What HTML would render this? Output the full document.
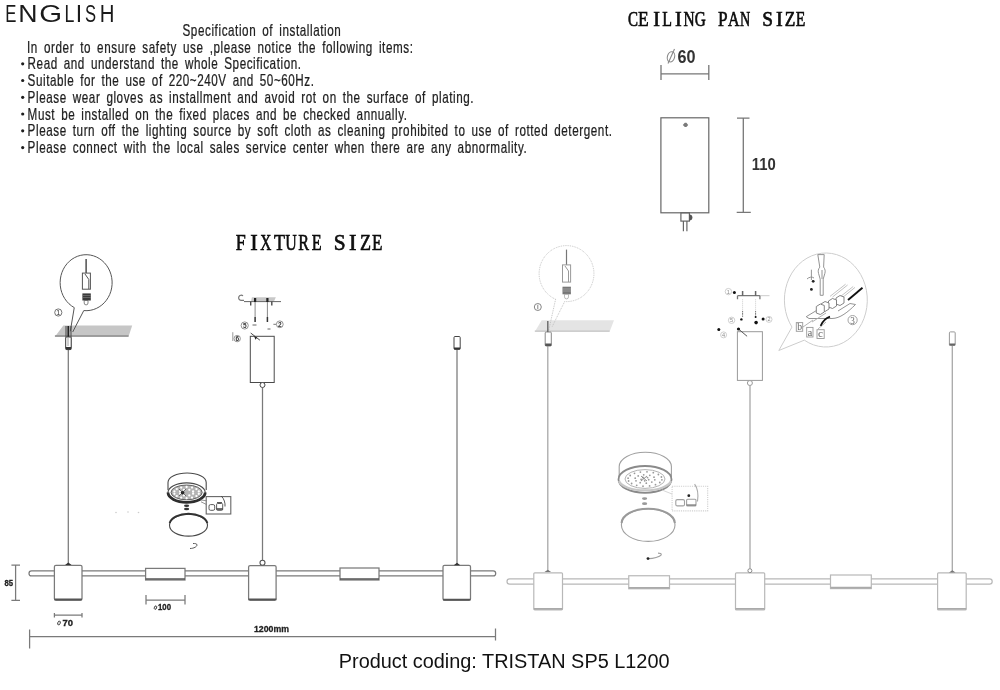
<!DOCTYPE html>
<html><head><meta charset="utf-8">
<style>
html,body{margin:0;padding:0;background:#fff;width:1000px;height:690px;overflow:hidden}
svg{display:block;filter:blur(0.4px)}
.t{font-family:"Liberation Sans",sans-serif;fill:#1e1e1e}
.s{font-family:"Liberation Serif",serif;fill:#111}
</style></head>
<body>
<svg width="1000" height="690" viewBox="0 0 1000 690">
<!-- ===== TEXT ===== -->
<g class="t" font-size="23" style="fill:#1a1a1a"><text x="7.098" y="22" transform="scale(0.7273,1)">E</text><text x="15.669" y="22" transform="scale(1.1594,1)">N</text><text x="30.697" y="22" transform="scale(1.2780,1)">G</text><text x="83.418" y="22" transform="scale(0.7729,1)">L</text><text x="75.730" y="22" transform="scale(1.0000,1)">I</text><text x="117.748" y="22" transform="scale(0.7222,1)">S</text><text x="112.646" y="22" transform="scale(0.8848,1)">H</text></g>
<g transform="scale(0.74,1)" class="t" font-size="15.8" word-spacing="2.97" stroke="#1e1e1e" stroke-width="0.25">
<text x="246.62" y="35.8" textLength="213.92" lengthAdjust="spacing">Specification of installation</text>
<text x="36.48" y="52.9" textLength="521.62" lengthAdjust="spacing">In order to ensure safety use ,please notice the following items:</text>
<text x="37.30" y="69.5" textLength="369.46" lengthAdjust="spacing">Read and understand the whole Specification.</text>
<text x="37.30" y="86.2" textLength="387.02" lengthAdjust="spacing">Suitable for the use of 220~240V and 50~60Hz.</text>
<text x="37.30" y="103" textLength="602.70" lengthAdjust="spacing">Please wear gloves as installment and avoid rot on the surface of plating.</text>
<text x="37.30" y="119.7" textLength="512.70" lengthAdjust="spacing">Must be installed on the fixed places and be checked annually.</text>
<text x="37.30" y="136.5" textLength="789.72" lengthAdjust="spacing">Please turn off the lighting source by soft cloth as cleaning prohibited to use of rotted detergent.</text>
<text x="37.30" y="153.3" textLength="674.46" lengthAdjust="spacing">Please connect with the local sales service center when there are any abnormality.</text>
</g>
<g fill="#1e1e1e">
<circle cx="22.7" cy="63.8" r="1.6"/><circle cx="22.7" cy="80.5" r="1.6"/><circle cx="22.7" cy="97.3" r="1.6"/>
<circle cx="22.7" cy="114" r="1.6"/><circle cx="22.7" cy="130.8" r="1.6"/><circle cx="22.7" cy="147.6" r="1.6"/>
</g>

<g class="s" font-size="20.2" font-weight="normal" style="stroke:#000;stroke-width:0.6"><text x="845.707" y="25.6" transform="scale(0.7426,1)">C</text><text x="738.295" y="25.6" transform="scale(0.8641,1)">E</text><text x="653.317" y="25.6" transform="scale(1.0000,1)">I</text><text x="840.146" y="25.6" transform="scale(0.7884,1)">L</text><text x="674.967" y="25.6" transform="scale(1.0000,1)">I</text><text x="894.137" y="25.6" transform="scale(0.7644,1)">N</text><text x="916.988" y="25.6" transform="scale(0.7576,1)">G</text><text x="843.181" y="25.6" transform="scale(0.8515,1)">P</text><text x="920.572" y="25.6" transform="scale(0.7907,1)">A</text><text x="1058.985" y="25.6" transform="scale(0.6989,1)">N</text><text x="797.140" y="25.6" transform="scale(0.9563,1)">S</text><text x="775.917" y="25.6" transform="scale(1.0000,1)">I</text><text x="915.958" y="25.6" transform="scale(0.8568,1)">Z</text><text x="1028.046" y="25.6" transform="scale(0.7741,1)">E</text></g>
<g class="s" font-size="22.5" font-weight="normal" style="stroke:#000;stroke-width:0.6"><text x="294.675" y="249.6" transform="scale(0.8000,1)">F</text><text x="250.287" y="249.6" transform="scale(1.0000,1)">I</text><text x="381.084" y="249.6" transform="scale(0.6828,1)">X</text><text x="343.046" y="249.6" transform="scale(0.7985,1)">T</text><text x="402.777" y="249.6" transform="scale(0.7085,1)">U</text><text x="415.318" y="249.6" transform="scale(0.7179,1)">R</text><text x="433.370" y="249.6" transform="scale(0.7192,1)">E</text><text x="351.574" y="249.6" transform="scale(0.9495,1)">S</text><text x="349.088" y="249.6" transform="scale(1.0000,1)">I</text><text x="448.056" y="249.6" transform="scale(0.8034,1)">Z</text><text x="489.679" y="249.6" transform="scale(0.7596,1)">E</text></g>
<text class="t" x="338.75" y="668" font-size="20" textLength="330.75" lengthAdjust="spacingAndGlyphs" style="fill:#111">Product coding: TRISTAN SP5 L1200</text>

<!-- ===== CEILING PAN ===== -->
<g stroke="#777" stroke-width="1.3" fill="none">
<path d="M661 65V80M708.8 65V80M661 73.9H708.8"/>
<path d="M743.3 118.2V212.4M737 118.2H749.5M736.7 212.4H750.8"/>
</g>
<g stroke="#666" stroke-width="1.2" fill="none">
<rect x="660.9" y="117.8" width="47.9" height="95"/>
<rect x="680.9" y="212.8" width="8.5" height="8.3"/>
<path d="M683.4 221.1V231.3M686.9 221.1V231.3"/>
</g>
<path d="M682.8 125l2-2.2h1.6l1.8 2.2-1.8 2h-1.6z" fill="#7a7a7a"/>
<path d="M689.4 214.5a3 3 0 0 1 0 6z" fill="#555"/>
<g fill="none" stroke="#8a8a8a" stroke-width="1.1"><ellipse cx="671" cy="56.8" rx="3.6" ry="5.2" transform="rotate(15 671 56.8)"/><path d="M668 63.5L674.5 49"/></g>
<text class="t" x="677.6" y="63.4" font-size="17.5" font-weight="bold" textLength="18" lengthAdjust="spacingAndGlyphs" style="fill:#333">60</text>
<text class="t" x="751.8" y="169.8" font-size="17.3" font-weight="bold" textLength="24" lengthAdjust="spacingAndGlyphs" style="fill:#333">110</text>

<!-- ===== LEFT FIXTURE ===== -->
<g id="L" stroke="#7a7a7a" stroke-width="1.25" fill="#fff">
<!-- bar -->
<rect x="29" y="570.9" width="466.7" height="5" rx="2.5"/>
<!-- cables -->
<path d="M68.3 349.6V565M262.5 387.5V560.4M457 349.3V565" fill="none"/>
<!-- cylinders -->
<rect x="54.4" y="565.3" width="27.6" height="35" rx="1.5"/>
<rect x="248.6" y="565.5" width="27.5" height="34.8" rx="1.5"/>
<rect x="443" y="565.3" width="27.5" height="35" rx="1.5"/>
<!-- diffusers -->
<rect x="145.6" y="568.4" width="39.4" height="11.6"/>
<rect x="340" y="568" width="39" height="12"/>
</g>
<g stroke="#555" stroke-width="1.6" fill="none">
<path d="M54.4 599.4H82M248.4 599.4H276.4M443 599.6H470.5M145.6 579H185M340 579H379"/>
</g>
<path d="M65 565l3.3-2.5 3.3 2.5zM453.7 565.2l3.3-2.5 3.3 2.5z" fill="#333"/>
<circle cx="262.5" cy="562.7" r="2.5" fill="#fff" stroke="#555" stroke-width="1.1"/>

<!-- left ceiling + bubble -->
<path d="M63.3 325.5H132.2L128.5 336.8H54.9z" fill="#c6c6c6" stroke="none"/>
<path d="M54.9 336H128.5" stroke="#8e8e8e" stroke-width="1.3"/>
<g stroke="#555" stroke-width="1" fill="none">
<path d="M74.25 307.60L70.3 331.3M83.78 310.58L72.7 332"/>
<path d="M74.25 307.60A26 28 0 1 1 83.78 310.58"/>
</g>
<path d="M66 326V347.5M71 326V347.5" stroke="#444" stroke-width="1"/>
<path d="M68.3 326V338" stroke="#222" stroke-width="1.8"/>
<rect x="65.7" y="337" width="5.5" height="12.6" rx="1" fill="#fff" stroke="#444" stroke-width="1"/>
<path d="M68 338V346" stroke="#888" stroke-width="0.8"/>
<rect x="65.7" y="347" width="5.5" height="2.6" fill="#333"/>
<!-- bubble inner -->
<path d="M86.1 259V273.1" stroke="#333" stroke-width="1.3"/>
<g stroke="#555" stroke-width="1" fill="none">
<rect x="82.4" y="273.1" width="8" height="16.1"/>
<path d="M85 274l3.8 5.5V289"/>
</g>
<rect x="82.4" y="293.4" width="8.4" height="7.1" fill="#3a3a3a"/>
<path d="M82.4 295.5h8.4M82.4 297.5h8.4" stroke="#888" stroke-width="0.6"/>
<path d="M84.2 300.5h3.8v2.5a1.9 1.9 0 0 1-3.8 0z" fill="none" stroke="#666" stroke-width="0.8"/>
<circle cx="58.3" cy="312.5" r="3.6" fill="none" stroke="#666" stroke-width="0.9"/>
<text class="t" x="58.3" y="315" font-size="7" text-anchor="middle" style="fill:#333">1</text>
<!-- right small canopy -->
<rect x="454" y="336.5" width="6.2" height="12.8" rx="1" fill="#fff" stroke="#444" stroke-width="1"/>
<rect x="454" y="347.5" width="6.2" height="2" fill="#333"/>
<!-- driver -->
<path d="M251.9 297.2H275.8L274 301.6H251z" fill="#c8c8c8"/>
<g stroke="#4a4a4a" stroke-width="1" fill="none">
<path d="M244 301.6H281" stroke="#666"/>
<path d="M250.7 301.6V305.5M271.8 301.6V305.5" stroke-width="1.4"/>
<path d="M255.1 302V317M267.4 302V317" stroke="#888"/>
<path d="M255.1 317V322M267.4 317V322" stroke="#333" stroke-width="1.5"/>
<path d="M244 300.4h-3a2.6 2.6 0 1 1 2-4.5" stroke="#777" stroke-width="1.2"/>
<rect x="250.3" y="336.3" width="23.9" height="46.2"/>
<circle cx="262.5" cy="385" r="2.5" fill="#fff"/>
<path d="M250.7 333L259.9 340.2"/>
<path d="M232.8 332.2V341" stroke="#999"/>
<path d="M273.4 324.3h3" stroke="#777"/>
<path d="M252.5 325h4M267.5 329h3" stroke="#666"/>
</g>
<path d="M255.1 298V302M267.4 298V302" stroke="#222" stroke-width="2.2"/>
<path d="M254 336l3 1.8-1.5 2z" fill="#222"/>
<g stroke="#888" stroke-width="0.9" fill="#fff">
<circle cx="244.7" cy="325.5" r="3.6"/><circle cx="279.8" cy="324.3" r="3.4"/><circle cx="237.2" cy="338.6" r="3.2"/>
</g>
<g class="t" font-size="6.5" font-weight="bold" style="fill:#333" text-anchor="middle">
<text x="244.7" y="327.9">5</text><text x="279.8" y="326.7">2</text><text x="237.2" y="341">6</text>
</g>
<!-- lamp exploded -->
<g stroke="#4a4a4a" stroke-width="1.1" fill="none">
<path d="M168 490V482.5A19.1 9.5 0 0 1 206.2 482.5V490"/>
<ellipse cx="186.6" cy="492.6" rx="18.6" ry="9.7" fill="#fff"/>
<path d="M168 492.6A18.6 9.7 0 0 0 205.2 492.6" stroke-width="2.8" stroke="#2e2e2e"/>
<ellipse cx="186.6" cy="492.4" rx="15.6" ry="7.4" fill="#b4b4b4" stroke="#555" stroke-width="0.9"/>
<ellipse cx="188.5" cy="525.2" rx="19" ry="10.9"/>
<path d="M169.7 523a19 10.9 0 0 1 37.6 0" stroke-width="2" stroke="#333"/>
<rect x="206.2" y="496.6" width="24.6" height="17.4" stroke="#666"/>
<path d="M200.6 499.9L206.7 500.8M201 501.8L206.5 504.5" stroke="#777" stroke-width="0.8"/>
<path d="M221.3 496c3 3 4 7 3.7 10.5" stroke="#444" stroke-width="0.9"/>
<rect x="209" y="504.6" width="5.7" height="5.7" rx="1.5" stroke-width="0.9"/>
<rect x="216.6" y="503.5" width="6.1" height="6.8" rx="1" stroke-width="0.9"/>
<path d="M217 502.5h5" stroke-width="0.9"/>
<path d="M190 548.5c4 0 7-2 7-3.5s-2-1.5-4-1.5" stroke-width="0.9"/>
</g>
<g fill="#fff"><circle cx="198.8" cy="493.8" r="1.15"/><circle cx="196.4" cy="496.1" r="1.15"/><circle cx="192.0" cy="497.6" r="1.15"/><circle cx="186.6" cy="498.2" r="1.15"/><circle cx="181.2" cy="497.6" r="1.15"/><circle cx="176.8" cy="496.1" r="1.15"/><circle cx="174.4" cy="493.8" r="1.15"/><circle cx="174.4" cy="491.4" r="1.15"/><circle cx="176.8" cy="489.1" r="1.15"/><circle cx="181.2" cy="487.6" r="1.15"/><circle cx="186.6" cy="487.0" r="1.15"/><circle cx="192.0" cy="487.6" r="1.15"/><circle cx="196.4" cy="489.1" r="1.15"/><circle cx="198.8" cy="491.4" r="1.15"/><circle cx="193.1" cy="493.7" r="1.15"/><circle cx="189.3" cy="495.4" r="1.15"/><circle cx="183.9" cy="495.4" r="1.15"/><circle cx="180.1" cy="493.7" r="1.15"/><circle cx="180.1" cy="491.5" r="1.15"/><circle cx="183.9" cy="489.8" r="1.15"/><circle cx="189.3" cy="489.8" r="1.15"/><circle cx="193.1" cy="491.5" r="1.15"/></g>
<circle cx="182.6" cy="492.8" r="1.8" fill="#222"/>
<path d="M179 489l7 7M186 489l-7 7" stroke="#333" stroke-width="0.6"/>
<path d="M216.6 509h6.1" stroke="#333" stroke-width="1.4"/>
<ellipse cx="186.6" cy="505.8" rx="2.6" ry="1.3" fill="#333"/><ellipse cx="186.6" cy="509" rx="2.6" ry="1.3" fill="#333"/>
<g fill="#ccc"><circle cx="116" cy="512.5" r="0.8"/><circle cx="128" cy="512" r="0.8"/><circle cx="138.5" cy="512.5" r="0.8"/></g>
<!-- left dims -->
<g stroke="#7a7a7a" stroke-width="1.25" fill="none">
<path d="M15.6 565V600.4M11.4 565H20M11.4 600.4H20"/>
<path d="M54.4 615H82M54.4 613V617.6M82 613V617.6"/>
<path d="M146 600H185M146 595V604.4M185 595V604.4"/>
<path d="M29.6 636.5H495.5M29.6 629.6V648.4M495.5 628.5V640.5"/>
</g>
<g class="t" font-weight="bold" style="fill:#222;stroke:#222;stroke-width:0.3">
<text x="4.4" y="586.4" font-size="8.5" textLength="8.6" lengthAdjust="spacingAndGlyphs">85</text>
<text x="62.5" y="626" font-size="8.5" textLength="10.5" lengthAdjust="spacingAndGlyphs">70</text>
<text x="158" y="610.4" font-size="8.5" textLength="13" lengthAdjust="spacingAndGlyphs">100</text>
<text x="254" y="632" font-size="9.5" textLength="35" lengthAdjust="spacingAndGlyphs">1200mm</text>
</g>
<g fill="none" stroke="#333" stroke-width="0.9"><ellipse cx="59" cy="623" rx="1.2" ry="2" transform="rotate(20 59 623)"/><ellipse cx="155.5" cy="607.6" rx="1.1" ry="1.8" transform="rotate(20 155.5 607.6)"/></g>

<!-- ===== RIGHT FIXTURE ===== -->
<g stroke="#b8b8b8" stroke-width="1.2" fill="#fff">
<rect x="507" y="578.9" width="485.2" height="5.2" rx="2.6"/>
<path d="M547.8 346V572M750 385.5V568.5M952.3 345.5V572.5" fill="none" stroke="#a8a8a8" stroke-width="1.3"/>
<rect x="533.8" y="572.8" width="28.7" height="37" rx="1"/>
<rect x="735.5" y="572.8" width="29.2" height="37.2" rx="1"/>
<rect x="937.6" y="572.8" width="28.6" height="37.2" rx="1"/>
<rect x="628.75" y="575.75" width="40.75" height="13"/>
<rect x="830.5" y="575" width="40.8" height="13.6"/>
</g>
<path d="M533.8 608.8H562.5M735.5 608.8H764.7M937.6 608.8H966.2M628.75 587.8H669.5M830.5 587.6H871.3" stroke="#aaa" stroke-width="1.8"/>
<path d="M544.5 572l3.3-2.2 3.3 2.2zM949 572.5l3.3-2.2 3.3 2.2z" fill="#777"/>
<circle cx="749.9" cy="570.7" r="2" fill="#fff" stroke="#888" stroke-width="1"/>
<!-- right ceiling + bubble -->
<path d="M541.7 320.3H614L609.6 331.8H534.8z" fill="#e4e4e4"/>
<path d="M534.8 331.2H609.6" stroke="#c4c4c4" stroke-width="1.3"/>
<g stroke="#bbb" stroke-width="0.9" fill="none" stroke-dasharray="0.9 0.9">
<path d="M555.59 299.28L548.7 330.4M564.66 301.54L552 327"/>
<path d="M555.59 299.28A27.4 28 0 1 1 564.66 301.54"/>
</g>
<rect x="545.2" y="332" width="6.1" height="14" rx="1" fill="#fff" stroke="#888" stroke-width="1"/>
<rect x="545.2" y="343.5" width="6.1" height="2.5" fill="#555"/>
<path d="M547.8 321V332" stroke="#666" stroke-width="1.4"/>
<path d="M566.5 249.6V264.9" stroke="#777" stroke-width="1.2"/>
<g stroke="#999" stroke-width="1" fill="none">
<rect x="562.5" y="264.9" width="8.1" height="17.2"/>
<path d="M565 266l3.5 5V282"/>
</g>
<rect x="562.5" y="286.7" width="8.4" height="7.6" fill="#777"/>
<path d="M562.5 289h8.4M562.5 291h8.4" stroke="#bbb" stroke-width="0.6"/>
<path d="M564.5 294.3h4v2.6a2 2 0 0 1-4 0z" fill="none" stroke="#aaa" stroke-width="0.8"/>
<circle cx="537.8" cy="307" r="3.5" fill="none" stroke="#777" stroke-width="0.9"/>
<path d="M537.8 304.8V309.2" stroke="#777" stroke-width="0.9"/>
<!-- right small canopy -->
<rect x="949.4" y="331.9" width="5.8" height="13.6" rx="1" fill="#fff" stroke="#999" stroke-width="1"/>
<rect x="949.4" y="343.5" width="5.8" height="2" fill="#666"/>
<!-- right driver -->
<g stroke="#999" stroke-width="1" fill="none">
<path d="M759.9 295.7H769.5" stroke="#ccc"/>
<path d="M737.5 295.7H759.9M737.5 295.7V299.3M759.9 295.7V299.3" stroke="#777" stroke-width="1.3"/>
<path d="M742.6 291V295.7M755.6 291V295.7" stroke="#666" stroke-width="1.5"/>
<path d="M742.6 299.3V311M755.6 299.3V311" stroke="#ccc" stroke-dasharray="1 1"/>
<path d="M742.6 311.2V316.7M755.6 311.2V316.7" stroke="#555" stroke-dasharray="1 0.6"/>
<rect x="737.4" y="331.7" width="25" height="48.7"/>
<circle cx="749.9" cy="383" r="2.5" fill="#fff"/>
<path d="M738.5 329L747.1 336.3" stroke="#555"/>
</g>
<g stroke="#c4c4c4" stroke-width="0.8" fill="none">
<circle cx="728.4" cy="291.6" r="3.2"/><circle cx="731.6" cy="320.3" r="3.2"/><circle cx="769" cy="319.4" r="3"/><circle cx="723.6" cy="334.9" r="3"/>
</g>
<g class="t" font-size="5.5" style="fill:#888" text-anchor="middle">
<text x="728.4" y="293.6">1</text><text x="731.6" y="322.3">5</text><text x="769" y="321.4">2</text><text x="723.6" y="336.9">4</text>
</g>
<g fill="#111">
<circle cx="734.4" cy="292.5" r="1.5"/><circle cx="741.4" cy="319.4" r="1.2"/><circle cx="755.6" cy="317.1" r="1"/><circle cx="756.1" cy="322.6" r="1.8"/>
<circle cx="763.1" cy="319" r="1.5"/><circle cx="718.8" cy="329.4" r="1.5"/><circle cx="738.5" cy="329" r="1.6"/>
</g>
<!-- wire bubble -->
<g stroke="#cdcdcd" stroke-width="1" fill="none">
<path d="M791.98 327.09L778.8 350.5L804.32 340.16"/>
<path d="M791.98 327.09A41.45 47 0 1 1 804.32 340.16"/>
</g>
<g stroke="#888" stroke-width="0.9" fill="none">
<path d="M817.8 254.6h6.4l-0.6 12.5c1.5 2 2 4 1.2 6.5l-1.6 5.5v16.2h-3v-16.2l-1.6-5.5c-0.8-2.5-0.3-4.5 1.2-6.5z"/>
<path d="M822 270v9"/>
<path d="M811.4 269.7V280M807 279c2-2 5-2.5 7-1"/>
<path d="M845.6 284.2L830 296.4M847.6 285L832.5 297M853.2 286.5L839.9 297M855 287.4L842 298" stroke="#bbb"/>
<path d="M806.2 316.7L819 309M806.2 316.7L809 318.5H832C840 318.5 848 312 855.5 304.5L850 303.5L838 311" />
<path d="M812 322L826 313M803 327l10-7M818 329l8-7" stroke="#aaa"/>
</g>
<g stroke="#777" stroke-width="0.9" fill="#fff">
<path d="M836 298l4-2.5 4 1.5v6l-4 2.5-4-1.5z"/>
<path d="M828.5 301l4-2.5 4 1.5v6l-4 2.5-4-1.5z"/>
<path d="M821 304l4-2.5 4 1.5v6l-4 2.5-4-1.5z"/>
<path d="M816.3 306.5l4-2.5 4 1.5v6.5l-4 2.5-4-1.5z"/>
</g>
<g stroke="#999" stroke-width="0.9" fill="#fff">
<rect x="796.3" y="322.6" width="6.4" height="8.7"/>
<rect x="806.7" y="327.4" width="6.3" height="9.6"/>
<rect x="817" y="329.7" width="7.2" height="8.8"/>
<circle cx="852.6" cy="320.1" r="4.6"/>
</g>
<path d="M848 299.9L862.5 287.7" stroke="#111" stroke-width="1.9"/>
<path d="M820.6 325.8C822.5 321.5 826 318 830 316.6" stroke="#111" stroke-width="1.7" fill="none"/>
<g fill="#222"><circle cx="813.2" cy="281.3" r="1.4"/><circle cx="811.4" cy="289.4" r="1.4"/></g>
<g class="t" style="fill:#666">
<text x="797.2" y="330.3" font-size="10" style="font-family:'Liberation Serif',serif" textLength="4.8" lengthAdjust="spacingAndGlyphs">b</text>
<text x="807.5" y="335.5" font-size="10" style="font-family:'Liberation Serif',serif" textLength="4.8" lengthAdjust="spacingAndGlyphs">a</text>
<text x="818" y="336.8" font-size="10" style="font-family:'Liberation Serif',serif" textLength="5" lengthAdjust="spacingAndGlyphs">c</text>
<text x="850.3" y="323.6" font-size="9.5" style="font-family:'Liberation Serif',serif" textLength="4.6" lengthAdjust="spacingAndGlyphs">3</text>
</g>
<!-- right lamp exploded -->
<g stroke="#a0a0a0" stroke-width="1.1" fill="none">
<path d="M619.2 481V466.6A26.1 14.4 0 0 1 671.4 466.6V481"/>
<ellipse cx="645" cy="479.4" rx="26.5" ry="13.4" fill="#fff" stroke="#8a8a8a" stroke-width="1.8"/>
<path d="M619 481A26.3 11 0 0 0 671 481" stroke="#c8c8c8" stroke-width="2.2"/>
<ellipse cx="645" cy="479" rx="20" ry="9.4" stroke="#aaa" stroke-width="0.9"/>
<ellipse cx="648.2" cy="525.1" rx="26.8" ry="16.3"/>
<path d="M621.6 523A26.6 14.3 0 0 1 674.8 523" stroke-width="2" stroke="#9a9a9a"/>
<rect x="672.1" y="486.3" width="35.6" height="24.6" stroke="#d0d0d0" stroke-dasharray="1.2 1"/>
<path d="M662 490l10 4" stroke="#ccc" stroke-width="0.8"/>
<path d="M694.6 484.1c3 4 4 10 2.9 17.4" stroke="#aaa"/>
<rect x="675.8" y="499.6" width="8.7" height="6.3" rx="1.5"/><rect x="686.6" y="499.3" width="9.4" height="6.6" rx="1"/>
<path d="M649 558.6c4 0 11-2 12-3.5s-1-2-3-2"/>
</g>
<ellipse cx="644.6" cy="498.6" rx="2.6" ry="1.4" fill="#999"/><ellipse cx="644.6" cy="503.7" rx="2.6" ry="1.4" fill="#999"/>
<path d="M686.6 505h9.4" stroke="#777" stroke-width="1.2"/>
<g fill="#9a9a9a"><circle cx="661.9" cy="479.8" r="0.9"/><circle cx="659.8" cy="482.5" r="0.9"/><circle cx="655.5" cy="484.7" r="0.9"/><circle cx="649.6" cy="485.9" r="0.9"/><circle cx="643.0" cy="486.2" r="0.9"/><circle cx="636.7" cy="485.3" r="0.9"/><circle cx="631.6" cy="483.5" r="0.9"/><circle cx="628.6" cy="481.0" r="0.9"/><circle cx="628.1" cy="478.2" r="0.9"/><circle cx="630.2" cy="475.5" r="0.9"/><circle cx="634.5" cy="473.3" r="0.9"/><circle cx="640.4" cy="472.1" r="0.9"/><circle cx="647.0" cy="471.8" r="0.9"/><circle cx="653.3" cy="472.7" r="0.9"/><circle cx="658.4" cy="474.5" r="0.9"/><circle cx="661.4" cy="477.0" r="0.9"/><circle cx="654.8" cy="479.8" r="0.9"/><circle cx="651.8" cy="482.1" r="0.9"/><circle cx="646.3" cy="483.2" r="0.9"/><circle cx="640.2" cy="482.7" r="0.9"/><circle cx="636.0" cy="480.8" r="0.9"/><circle cx="635.2" cy="478.2" r="0.9"/><circle cx="638.2" cy="475.9" r="0.9"/><circle cx="643.7" cy="474.8" r="0.9"/><circle cx="649.8" cy="475.3" r="0.9"/><circle cx="654.0" cy="477.2" r="0.9"/><circle cx="648.7" cy="479.7" r="0.9"/><circle cx="644.7" cy="480.8" r="0.9"/><circle cx="641.1" cy="479.4" r="0.9"/><circle cx="642.9" cy="477.5" r="0.9"/><circle cx="647.5" cy="477.6" r="0.9"/></g>
<path d="M641 476l6 5M647 476l-6 5" stroke="#777" stroke-width="0.8"/>
<g fill="#222"><circle cx="688.8" cy="495.7" r="1.4"/><circle cx="648" cy="558.6" r="1.4"/></g>

</svg>
</body></html>
